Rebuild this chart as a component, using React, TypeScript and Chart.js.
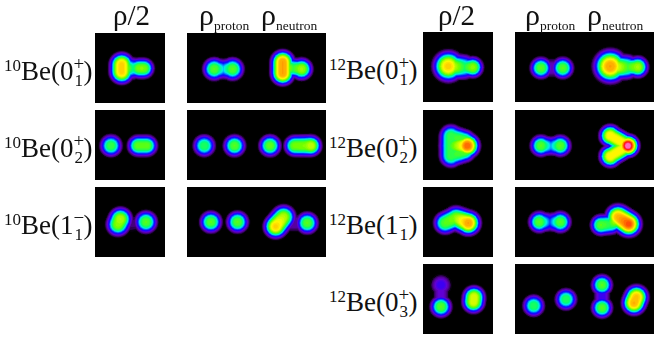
import React, { useEffect, useRef } from "react";
import { Chart, registerables } from "chart.js";

Chart.register(...registerables);

// Each ridge of density: [x1, y1, peak1, x2, y2, peak2, spread]
type Ridge = number[];

const be10_01_total: Ridge[] = [[26.7, 31.5, 0.76, 26.7, 39, 0.76, 9.8], [26.7, 35.3, 0.7, 37, 35.3, 0.42, 9], [37, 35.3, 0.42, 46.7, 35.3, 0.6, 8], [44, 35.3, 0.58, 49, 35.3, 0.58, 8.3]];
const be10_01_pn: Ridge[] = [[27.3, 36, 0.55, 27.3, 36, 0.55, 9.3], [45.7, 36, 0.55, 45.7, 36, 0.55, 9.3], [27.3, 36, 0.55, 36.5, 36, 0.33, 8.3], [36.5, 36, 0.33, 45.7, 36, 0.55, 8.3], [96, 29, 0.82, 96, 40.5, 0.82, 9.7], [96, 35, 0.7, 106, 35, 0.5, 8.5], [106, 35, 0.5, 115, 36, 0.62, 8], [115, 36, 0.62, 115, 36, 0.62, 9]];
const be10_02_total: Ridge[] = [[16, 35.7, 0.52, 16, 35.7, 0.52, 9], [43, 35.7, 0.56, 52, 35.7, 0.56, 8.7]];
const be10_02_pn: Ridge[] = [[17.3, 35.7, 0.5, 17.3, 35.7, 0.5, 9], [47.7, 35.7, 0.55, 47.7, 35.7, 0.55, 9], [83.3, 35.7, 0.56, 83.3, 35.7, 0.56, 9], [108, 35.7, 0.58, 120, 35.7, 0.6, 8.7], [120, 35.7, 0.6, 124.5, 35.7, 0.66, 8.7]];
const be10_11_total: Ridge[] = [[23, 37.5, 0.6, 25.5, 32, 0.64, 9.6], [51, 35, 0.55, 51, 35, 0.55, 9.2], [30, 37, 0.08, 43, 36, 0.08, 8]];
const be10_11_pn: Ridge[] = [[24, 35, 0.55, 24, 35, 0.55, 9], [50.7, 35, 0.55, 50.7, 35, 0.55, 9], [89, 39.5, 0.76, 97, 30, 0.64, 9.8], [120.7, 36, 0.55, 120.7, 36, 0.55, 9], [103, 36, 0.12, 112, 36, 0.12, 8]];

const be12_01_total: Ridge[] = [[25.3, 34.3, 0.76, 25.3, 34.3, 0.76, 12.5], [28, 34.5, 0.68, 41, 35, 0.47, 10], [41, 35, 0.47, 49.7, 35.3, 0.6, 8.2], [49.7, 35.3, 0.6, 49.7, 35.3, 0.6, 8.6]];
const be12_01_pn: Ridge[] = [[26, 36, 0.55, 26, 36, 0.55, 8.8], [47.7, 36, 0.55, 47.7, 36, 0.55, 8.8], [30, 36, 0.14, 43, 36, 0.14, 8.5], [95.3, 34.3, 0.82, 95.3, 34.3, 0.82, 13.5], [100, 35, 0.7, 112, 35, 0.52, 10], [112, 35, 0.52, 122.7, 35, 0.62, 8], [122.7, 35, 0.62, 122.7, 35, 0.62, 8.8]];
const be12_02_total: Ridge[] = [[44.3, 35.7, 0.88, 44.3, 35.7, 0.88, 10], [28, 26, 0.52, 28, 46, 0.52, 9.5], [28, 35.7, 0.5, 44.3, 35.7, 0.8, 10], [30, 27, 0.52, 42, 31, 0.56, 9], [30, 45, 0.52, 42, 41, 0.56, 9]];
const be12_02_pn: Ridge[] = [[26, 35.7, 0.55, 26, 35.7, 0.55, 8.8], [45.3, 35.7, 0.55, 45.3, 35.7, 0.55, 8.8], [26, 35.7, 0.55, 36, 36, 0.3, 8], [36, 36, 0.3, 45.3, 35.7, 0.55, 8], [113, 35.7, 1, 113, 35.7, 1, 9], [95.3, 25.7, 0.72, 95.3, 25.7, 0.72, 9], [95.3, 46.3, 0.72, 95.3, 46.3, 0.72, 9], [95.3, 25.7, 0.72, 113, 35.7, 0.72, 8.5], [95.3, 46.3, 0.72, 113, 35.7, 0.72, 8.5], [100, 36, 0.4, 108, 36, 0.6, 7]];
const be12_11_total: Ridge[] = [[22, 36, 0.55, 33, 31, 0.6, 9.3], [33, 31, 0.6, 45.3, 36, 0.82, 9.8], [45.3, 36, 0.82, 45.3, 36, 0.82, 10]];
const be12_11_pn: Ridge[] = [[24.3, 35, 0.55, 24.3, 35, 0.55, 8.8], [45.3, 35, 0.55, 45.3, 35, 0.55, 8.8], [24.3, 35, 0.55, 35, 35, 0.22, 8], [35, 35, 0.22, 45.3, 35, 0.55, 8], [113.7, 37, 0.9, 103, 30, 0.8, 10.4], [86, 38, 0.55, 86, 38, 0.55, 8.6], [86, 38, 0.55, 96, 37, 0.5, 8.5], [96, 37, 0.5, 103, 32, 0.7, 8.5]];
const be12_03_total: Ridge[] = [[18, 21, 0.2, 18, 21, 0.2, 8.8], [18, 42.7, 0.55, 18, 42.7, 0.55, 8.8], [18, 21, 0.15, 18, 42, 0.15, 7], [51, 33, 0.68, 50.5, 38, 0.68, 9.2]];
const be12_03_pn: Ridge[] = [[18.7, 41.7, 0.5, 18.7, 41.7, 0.5, 8.8], [51, 35.3, 0.5, 51, 35.3, 0.5, 8.8], [87, 21, 0.55, 87, 21, 0.55, 8.6], [87, 43.7, 0.55, 87, 43.7, 0.55, 8.6], [87, 21, 0.2, 87, 43.7, 0.2, 7], [119, 39, 0.8, 121.5, 33, 0.78, 9.8]];

const colourStops: [number, number[]][] = [
  [0.03, [10, 0, 18]],
  [0.05, [45, 0, 80]],
  [0.09, [85, 0, 150]],
  [0.14, [100, 0, 210]],
  [0.2, [50, 0, 250]],
  [0.26, [10, 20, 255]],
  [0.33, [0, 130, 255]],
  [0.39, [0, 235, 235]],
  [0.46, [0, 255, 120]],
  [0.57, [110, 255, 0]],
  [0.7, [255, 250, 0]],
  [0.84, [255, 140, 0]],
  [0.93, [255, 20, 10]],
  [0.97, [255, 60, 170]],
  [1, [255, 235, 255]],
];

function colourAt(v: number): string {
  for (let i = 1; i < colourStops.length; i++) {
    const [a, ca] = colourStops[i - 1];
    const [b, cb] = colourStops[i];
    if (v <= b) {
      const t = (v - a) / (b - a);
      const c = ca.map((n, k) => Math.round(n + (cb[k] - n) * t));
      return `rgb(${c[0]},${c[1]},${c[2]})`;
    }
  }
  return "rgb(255,235,255)";
}

const contourCount = 44;
const contourLevels: number[] = Array.from({ length: contourCount }, (_, i) => 0.03 + ((1 - 0.03) * i) / (contourCount - 1));
const profilePower = 1 / 3;

function contourBubbles(ridges: Ridge[], v: number) {
  const out: { x: number; y: number; r: number }[] = [];
  for (const [x1, y1, p1, x2, y2, p2, a] of ridges) {
    const steps = Math.max(1, Math.ceil(Math.hypot(x2 - x1, y2 - y1)));
    for (let i = 0; i <= steps; i++) {
      const t = i / steps;
      const p = p1 + (p2 - p1) * t;
      if (p > v) out.push({ x: x1 + (x2 - x1) * t, y: y1 + (y2 - y1) * t, r: a * Math.pow(Math.log(p / v), profilePower) });
    }
  }
  return out;
}

function Panel({ ridges, left, top, width }: { ridges: Ridge[]; left: number; top: number; width: number }) {
  const ref = useRef<HTMLCanvasElement>(null);
  useEffect(() => {
    const datasets = contourLevels.map((v, i) => ({
      label: `level ${i}`,
      order: -i,
      data: contourBubbles(ridges, v),
      backgroundColor: colourAt(v),
      borderWidth: 0,
    }));
    const chart = new Chart(ref.current!, {
      type: "bubble",
      data: { datasets },
      options: {
        animation: false,
        responsive: false,
        events: [],
        layout: { padding: 0, autoPadding: false },
        plugins: { legend: { display: false }, tooltip: { enabled: false } },
        scales: {
          x: { type: "linear", min: 0, max: width, display: false },
          y: { type: "linear", min: 0, max: 70, reverse: true, display: false },
        },
      },
    });
    return () => chart.destroy();
  }, [ridges, width]);
  return (
    <canvas
      ref={ref}
      width={width}
      height={70}
      style={{ position: "absolute", left, top, width, height: 70, background: "#000", filter: "blur(0.7px)" }}
    />
  );
}

const serif = '"Liberation Serif", serif';

function Rho({ left, top, sub }: { left: number; top: number; sub: string }) {
  return (
    <div style={{ position: "absolute", left, top, font: `30px ${serif}`, lineHeight: "30px", whiteSpace: "nowrap", color: "#111" }}>
      ρ<span style={{ fontSize: 13.5, verticalAlign: -5 }}>{sub}</span>
    </div>
  );
}

function Label({ left, top, mass, up, low, sign }: { left: number; top: number; mass: string; up: string; low: string; sign: string }) {
  return (
    <div style={{ position: "absolute", left, top, font: `27px ${serif}`, lineHeight: "30px", whiteSpace: "nowrap", color: "#111" }}>
      <span style={{ fontSize: 17, verticalAlign: 9 }}>{mass}</span>
      Be({up}
      <span style={{ display: "inline-block", position: "relative", width: 10, height: 20 }}>
        <span style={{ position: "absolute", left: 0, top: -11, fontSize: 19 }}>{sign}</span>
        <span style={{ position: "absolute", left: 1, top: 6, fontSize: 17 }}>{low}</span>
      </span>
      )
    </div>
  );
}

const leftRows = [32.5, 109.5, 187];
const rightRows = [32, 109.5, 187, 264];
const be10Labels = [["0", "1", "+"], ["0", "2", "+"], ["1", "1", "−"]];
const be12Labels = [["0", "1", "+"], ["0", "2", "+"], ["1", "1", "−"], ["0", "3", "+"]];
const be10Total = [be10_01_total, be10_02_total, be10_11_total];
const be10Pn = [be10_01_pn, be10_02_pn, be10_11_pn];
const be12Total = [be12_01_total, be12_02_total, be12_11_total, be12_03_total];
const be12Pn = [be12_01_pn, be12_02_pn, be12_11_pn, be12_03_pn];

export default function App() {
  return (
    <div style={{ position: "absolute", left: 0, top: 0, width: 654, height: 346, overflow: "hidden", background: "#fff" }}>
      {leftRows.map((y, i) => (
        <React.Fragment key={`l${i}`}>
          <Panel ridges={be10Total[i]} left={95} top={y} width={70} />
          <Panel ridges={be10Pn[i]} left={186.5} top={y} width={139.5} />
          <Label left={4} top={y + 18} mass="10" up={be10Labels[i][0]} low={be10Labels[i][1]} sign={be10Labels[i][2]} />
        </React.Fragment>
      ))}
      {rightRows.map((y, i) => (
        <React.Fragment key={`r${i}`}>
          <Panel ridges={be12Total[i]} left={423} top={y} width={70} />
          <Panel ridges={be12Pn[i]} left={515} top={y} width={139} />
          <Label left={329} top={y + 18} mass="12" up={be12Labels[i][0]} low={be12Labels[i][1]} sign={be12Labels[i][2]} />
        </React.Fragment>
      ))}
      <div style={{ position: "absolute", left: 113, top: 0, font: `29px ${serif}`, lineHeight: "30px", color: "#111" }}>ρ/2</div>
      <div style={{ position: "absolute", left: 438, top: 0, font: `29px ${serif}`, lineHeight: "30px", color: "#111" }}>ρ/2</div>
      <Rho left={199} top={0} sub="proton" />
      <Rho left={261} top={0} sub="neutron" />
      <Rho left={525} top={0} sub="proton" />
      <Rho left={587} top={0} sub="neutron" />
    </div>
  );
}
